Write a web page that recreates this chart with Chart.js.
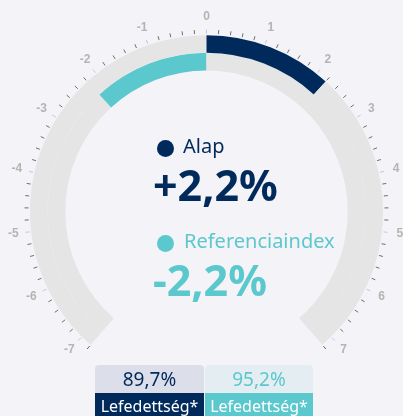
<!DOCTYPE html>
<html>
<head>
<meta charset="utf-8">
<script src="https://cdn.jsdelivr.net/npm/chart.js@4.4.1/dist/chart.umd.min.js"></script>
<style>
    body { margin: 0; background: #f4f3f7; font-family: "Noto Sans", "Open Sans", sans-serif; }
    #wrap { position: relative; width: 403px; height: 416px; overflow: hidden; }
    #gauge { position: absolute; left: 0; top: 0; }
    .dot { position: absolute; width: 17px; height: 17px; border-radius: 50%; }
    .name { position: absolute; font-size: 20px; line-height: 20px; white-space: nowrap; }
    .big { position: absolute; font-size: 43px; line-height: 43px; font-weight: 700; white-space: nowrap; }
    .box { position: absolute; top: 365px; text-align: center; }
    .box .val { height: 28px; line-height: 28px; font-size: 19px; border-radius: 4px 4px 0 0; }
    .box .lab { height: 26px; line-height: 26px; font-size: 16px; color: #fff; }
</style>
</head>
<body>
<div id="wrap">
    <canvas id="gauge" width="403" height="416"></canvas>

    <div class="dot" id="dot0" style="left:157px;top:140px;"></div>
    <div class="name" id="name0" style="left:183px;top:136px;"></div>
    <div class="big" id="big0" style="left:153px;top:163px;"></div>

    <div class="dot" id="dot1" style="left:157px;top:235px;"></div>
    <div class="name" id="name1" style="left:184px;top:231px;"></div>
    <div class="big" id="big1" style="left:153px;top:258px;"></div>

    <div class="box" id="box0" style="left:95px;width:109px;">
        <div class="val" id="val0" style="background:#dcdfe9;"></div>
        <div class="lab" id="lab0"></div>
    </div>
    <div class="box" id="box1" style="left:205px;width:108px;">
        <div class="val" id="val1" style="background:#e4edf1;"></div>
        <div class="lab" id="lab1"></div>
    </div>
</div>
<script>
    // adatok
    var seriesNames = ['Alap', 'Referenciaindex'];
    var seriesValues = [2.2, -2.2];
    var seriesTexts = ['+2,2%', '-2,2%'];
    var coverageValues = ['89,7%', '95,2%'];
    var coverageLabels = ['Lefedettség*', 'Lefedettség*'];
    var scaleMin = -7.2;
    var scaleMax = 7.2;
    var tickStep = 0.2;
    var tickLabels = [-7, -6, -5, -4, -3, -2, -1, 0, 1, 2, 3, 4, 5, 6, 7];

    var colors = ['#002a5c', '#5bc8ce'];
    var trackColor = '#e5e5e5';

    // szövegek
    for (var i = 0; i < seriesNames.length; i++) {
        document.getElementById('dot' + i).style.background = colors[i];
        document.getElementById('name' + i).style.color = colors[i];
        document.getElementById('name' + i).textContent = seriesNames[i];
        document.getElementById('big' + i).style.color = colors[i];
        document.getElementById('big' + i).textContent = seriesTexts[i];
        document.getElementById('val' + i).style.color = colors[i];
        document.getElementById('val' + i).textContent = coverageValues[i];
        document.getElementById('lab' + i).style.background = colors[i];
        document.getElementById('lab' + i).textContent = coverageLabels[i];
    }

    // gyűrű szakaszok: min..0..érték..max
    function segments(v) {
        if (v >= 0) {
            return [0 - scaleMin, v, scaleMax - v];
        }
        return [v - scaleMin, 0 - v, scaleMax];
    }
    function segColors(v, c) {
        return [trackColor, c, trackColor];
    }

    var gaugeTicks = {
        id: 'gaugeTicks',
        afterDatasetsDraw: function (chart) {
            var arc = chart.getDatasetMeta(0).data[0];
            var cx = arc.x, cy = arc.y, r = arc.outerRadius;
            var start = arc.startAngle;
            var span = chart.options.circumference * Math.PI / 180;
            var ctx = chart.ctx;
            function ang(v) {
                return start + (v - scaleMin) / (scaleMax - scaleMin) * span;
            }
            ctx.save();
            ctx.lineWidth = 1;
            var n = Math.round((scaleMax - scaleMin) / tickStep);
            for (var k = 0; k <= n; k++) {
                var v = scaleMin + k * tickStep;
                var major = Math.abs(v - Math.round(v)) < 1e-6;
                var a = ang(v);
                ctx.strokeStyle = major ? '#b5c9e8' : '#6e6e6e';
                ctx.beginPath();
                ctx.moveTo(cx + Math.cos(a) * (r + 1.5), cy + Math.sin(a) * (r + 1.5));
                ctx.lineTo(cx + Math.cos(a) * (r + 5.5), cy + Math.sin(a) * (r + 5.5));
                ctx.stroke();
            }
            ctx.fillStyle = '#b4b4b4';
            ctx.font = 'bold 12px "Liberation Sans", Arial, sans-serif';
            ctx.textAlign = 'center';
            ctx.textBaseline = 'middle';
            tickLabels.forEach(function (t) {
                var a = ang(t);
                ctx.fillText(String(t), cx + Math.cos(a) * (r + 18), cy + Math.sin(a) * (r + 18));
            });
            ctx.restore();
        }
    };

    new Chart(document.getElementById('gauge').getContext('2d'), {
        type: 'doughnut',
        data: {
            labels: ['', '', ''],
            datasets: [{
                data: segments(seriesValues[0]),
                backgroundColor: segColors(seriesValues[0], colors[0]),
                borderWidth: 0
            }, {
                data: segments(seriesValues[1]),
                backgroundColor: segColors(seriesValues[1], colors[1]),
                borderWidth: 0
            }]
        },
        options: {
            responsive: false,
            animation: false,
            rotation: -139,
            circumference: 278,
            cutout: '80%',
            layout: { padding: { left: 30, right: 20, top: 35, bottom: 71 } },
            plugins: {
                legend: { display: false },
                tooltip: { enabled: false }
            }
        },
        plugins: [gaugeTicks]
    });
</script>
</body>
</html>
